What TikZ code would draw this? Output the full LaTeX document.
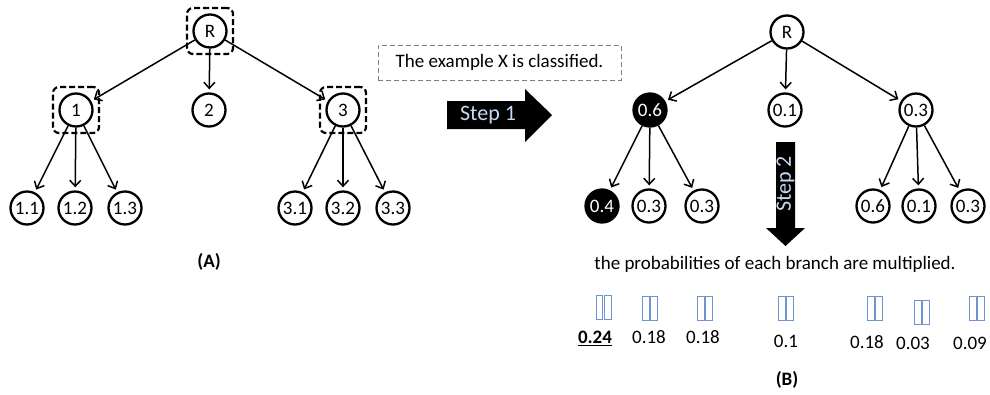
\documentclass[tikz,border=0pt]{standalone}
\usepackage{fontspec}
\setmainfont{Carlito}
\usetikzlibrary{arrows.meta}
\definecolor{stepblue}{HTML}{C6D9F1}
\definecolor{tofublue}{HTML}{6F95D0}
\definecolor{boxgray}{HTML}{7F7F7F}
\begin{document}
\begin{tikzpicture}[x=1pt,y=-1pt,
  every node/.style={font=\fontsize{19}{21}\selectfont},
  tnode/.style={circle,draw,line width=2.3pt,minimum size=33pt,inner sep=0pt,fill=white},
  blacknode/.style={tnode,fill=black,text=white},
  hbox/.style={draw,line width=2.2pt,rounded corners=6pt,minimum width=46pt,minimum height=46pt,dash pattern=on 6pt off 3pt},
  edge/.style={line width=1.5pt,-{Straight Barb[length=6pt,width=11pt]},shorten >=3pt},
  tofu/.pic={\draw[tofublue,line width=1pt] (-7.5,-12) rectangle (-0.7,12) (0.7,-12) rectangle (7.5,12);},
  steptext/.style={text=stepblue,font=\fontsize{22}{24}\selectfont}
]
\useasboundingbox (0,0) rectangle (990,394);
% ---- tree A ----
\node[hbox] (RAbox) at (210,31) {};
\node[hbox] (A1box) at (76,110) {};
\node[hbox] (A3box) at (343,110) {};
\node[tnode] (RA) at (210,31) {R};
\node[tnode] (A1) at (76,110) {1};
\node[tnode] (A2) at (209,110) {2};
\node[tnode] (A3) at (343,110) {3};
\node[tnode] (A11) at (27,208) {1.1};
\node[tnode] (A12) at (75,208) {1.2};
\node[tnode] (A13) at (125,208) {1.3};
\node[tnode] (A31) at (295,208) {3.1};
\node[tnode] (A32) at (343,208) {3.2};
\node[tnode] (A33) at (393,208) {3.3};
\foreach \a/\b in {RA/A1,RA/A2,RA/A3,A1/A11,A1/A12,A1/A13,A3/A31,A3/A32,A3/A33}
  \draw[edge] (\a) -- (\b);
\node[font=\fontsize{19}{21}\selectfont\bfseries] (labA) at (209,262) {(A)};
% ---- caption box and step 1 ----
\node[draw=boxgray,line width=1pt,dash pattern=on 5pt off 3pt,minimum width=243pt,minimum height=35pt,inner sep=0pt] (cap) at (499.5,62.5) {The example X is classified.};
\fill (447,101) -- (525,101) -- (525,89) -- (552,115) -- (525,142) -- (525,129) -- (447,129) -- cycle;
\node[steptext] (s1) at (488,115) {Step 1};
% ---- tree B ----
\node[tnode] (RB) at (787,32) {R};
\node[blacknode] (B1) at (650,110) {0.6};
\node[tnode] (B2) at (785,110) {0.1};
\node[tnode] (B3) at (916,110) {0.3};
\node[blacknode] (B11) at (602,206) {0.4};
\node[tnode] (B12) at (649,206) {0.3};
\node[tnode] (B13) at (702,206) {0.3};
\node[tnode] (B31) at (873,206) {0.6};
\node[tnode] (B32) at (919,206) {0.1};
\node[tnode] (B33) at (968,206) {0.3};
\foreach \a/\b in {RB/B1,RB/B2,RB/B3,B1/B11,B1/B12,B1/B13,B3/B31,B3/B32,B3/B33}
  \draw[edge] (\a) -- (\b);
% step 2
\fill (776,142) -- (795,142) -- (795,228) -- (805,228) -- (785.5,246) -- (766,228) -- (776,228) -- cycle;
\node[steptext,rotate=90] (s2) at (785.5,184) {Step 2};
\node (sent) at (775,264) {the probabilities of each branch are multiplied.};
\foreach \x/\y in {603.5/307,650/308,705/308,786/308,875/308,922/312,977/308}
  \pic at (\x,\y) {tofu};
\node (p1) at (595,338) {\underline{\textbf{0.24}}};
\node (p2) at (649,337) {0.18};
\node (p3) at (703,337) {0.18};
\node (p4) at (786,341) {0.1};
\node (p5) at (867,342) {0.18};
\node (p6) at (913,343) {0.03};
\node (p7) at (970,343) {0.09};
\node[font=\fontsize{19}{21}\selectfont\bfseries] (labB) at (787,380) {(B)};
\end{tikzpicture}
\end{document}
